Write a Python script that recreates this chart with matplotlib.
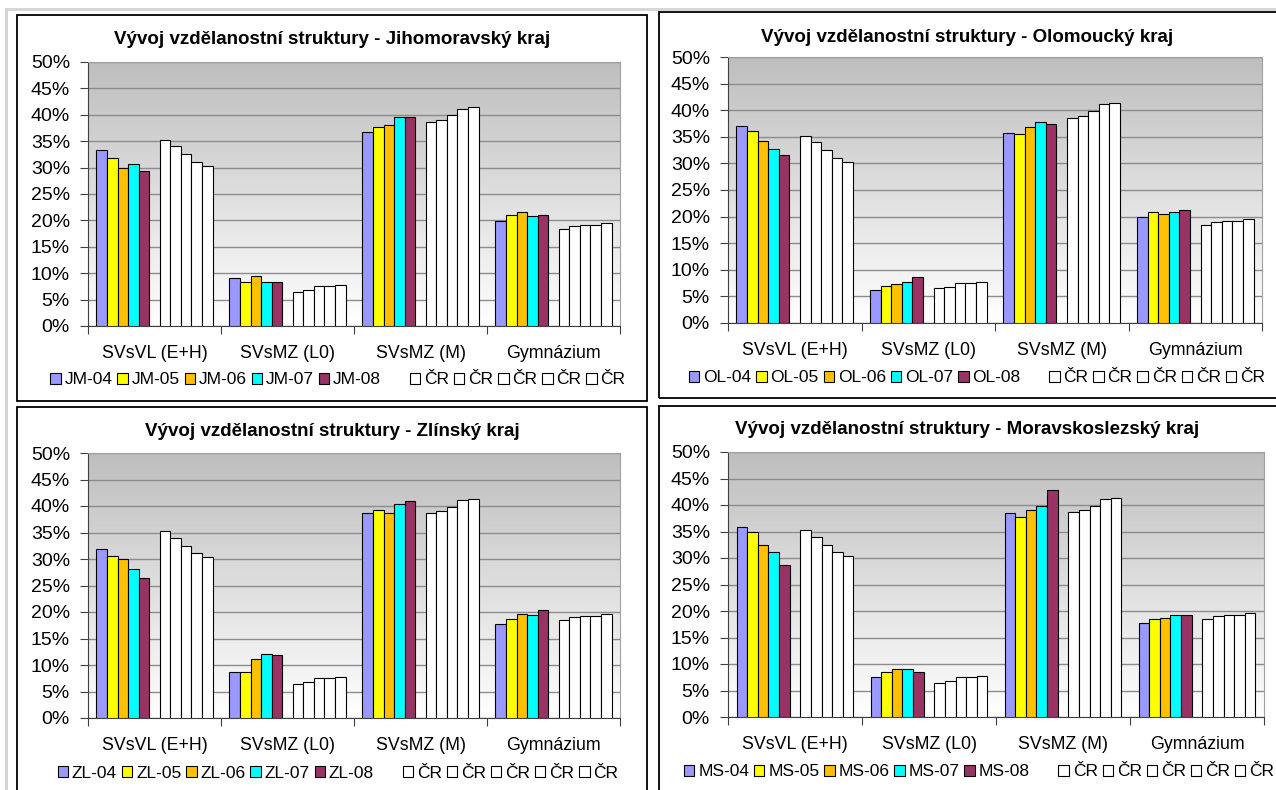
import matplotlib
matplotlib.use("Agg")
import matplotlib.pyplot as plt
from matplotlib.patches import Rectangle, Patch
import numpy as np

plt.rcParams['font.family'] = ['Liberation Sans', 'DejaVu Sans']

categories = ["SVsVL (E+H)", "SVsMZ (L0)", "SVsMZ (M)", "Gymnázium"]
years = ["04", "05", "06", "07", "08"]

# rows = years 04..08, columns = categories (values in %)
jm_values = [[33.3, 9.0, 36.8, 19.9],
             [31.8, 8.4, 37.7, 21.1],
             [29.9, 9.4, 38.1, 21.5],
             [30.6, 8.4, 39.6, 20.9],
             [29.3, 8.4, 39.6, 21.1]]
ol_values = [[37.1, 6.2, 35.8, 19.9],
             [36.1, 6.9, 35.5, 20.9],
             [34.3, 7.4, 36.8, 20.5],
             [32.7, 7.7, 37.7, 20.9],
             [31.5, 8.7, 37.4, 21.2]]
zl_values = [[31.9, 8.7, 38.7, 17.8],
             [30.5, 8.7, 39.3, 18.7],
             [30.0, 11.2, 38.7, 19.7],
             [28.1, 12.1, 40.3, 19.4],
             [26.5, 11.8, 40.9, 20.3]]
ms_values = [[35.9, 7.5, 38.4, 17.8],
             [35.0, 8.4, 37.7, 18.4],
             [32.5, 9.1, 39.0, 18.7],
             [31.2, 9.1, 39.9, 19.3],
             [28.7, 8.4, 42.8, 19.3]]
cr_values = [[35.2, 6.5, 38.6, 18.4],
             [34.0, 6.8, 39.0, 19.0],
             [32.5, 7.5, 39.9, 19.2],
             [31.1, 7.5, 41.1, 19.2],
             [30.3, 7.8, 41.4, 19.6]]

region_colors = ['#9999FF', '#FFFF00', '#FFC000', '#00FFFF', '#993366']

fig = plt.figure(figsize=(12.76, 7.90), dpi=100)
W, H = 1276, 790

# light outer page frame
fig.patches.append(Rectangle((6 / W, -0.1), 1.2, 1 - 9 / H + 0.1, transform=fig.transFigure,
                             fill=False, edgecolor='#D4D4D4', lw=2, zorder=0))

# panel definitions: (prefix, region name, values, box px, axes px, title y, legend x, legend y)
panels = [
    ("JM", "Jihomoravský kraj", jm_values, (17, 15, 647, 401), (88, 62, 620, 326), 40, 338, 380),
    ("OL", "Olomoucký kraj", ol_values, (659, 12, 1282, 398), (728, 57, 1262, 323), 38, 977, 378),
    ("ZL", "Zlínský kraj", zl_values, (17, 407, 647, 795), (88, 453, 620, 718), 432, 338, 773),
    ("MS", "Moravskoslezský kraj", ms_values, (659, 406, 1282, 795), (728, 452, 1264, 717), 430, 979, 772),
]

gradient = np.linspace(1, 0, 256).reshape(-1, 1)
grad_cmap = matplotlib.colors.LinearSegmentedColormap.from_list("g", ["#FFFFFF", "#BEBEBE"])

nslots = 11
w = 1.0 / (nslots + 1.6)

for prefix, region, values, box, axp, title_y, leg_x, leg_y in panels:
    # panel frame
    x0, y0, x1, y1 = box
    fig.patches.append(Rectangle((x0 / W, 1 - y1 / H), (x1 - x0) / W, (y1 - y0) / H,
                                 transform=fig.transFigure, fill=False,
                                 edgecolor='black', lw=1.3, zorder=1))
    fig.text((x0 + min(x1, W)) / 2 / W, 1 - title_y / H,
             "Vývoj vzdělanostní struktury - " + region,
             ha='center', va='center', fontsize=13.5, fontweight='bold')

    ax = fig.add_axes([axp[0] / W, 1 - axp[3] / H, (axp[2] - axp[0]) / W, (axp[3] - axp[1]) / H])
    ax.imshow(gradient, extent=[-0.5, 3.5, 0, 50], aspect='auto', cmap=grad_cmap,
              vmin=0, vmax=1, zorder=0)
    x = np.arange(len(categories))
    handles = []
    for i in range(5):
        b = ax.bar(x + (i - 5) * w, values[i], width=w, color=region_colors[i],
                   edgecolor='black', linewidth=0.8, zorder=3,
                   label=prefix + "-" + years[i])
        handles.append(b)
    handles.append(Patch(facecolor='none', edgecolor='none', label=' '))
    for i in range(5):
        b = ax.bar(x + (i + 1) * w, cr_values[i], width=w, color='white',
                   edgecolor='black', linewidth=0.8, zorder=3, label="ČR")
        handles.append(b)

    ax.set_xlim(-0.5, 3.5)
    ax.set_ylim(0, 50)
    ax.set_yticks(np.arange(0, 51, 5))
    ax.set_yticklabels([f"{v}%" for v in range(0, 51, 5)])
    ax.yaxis.grid(True, color='#8C8C8C', lw=1)
    ax.set_axisbelow(True)
    ax.set_xticks([-0.5, 0.5, 1.5, 2.5, 3.5])
    ax.set_xticklabels([])
    ax.set_xticks(x, minor=True)
    ax.set_xticklabels(categories, minor=True)
    ax.tick_params(axis='x', which='minor', length=0, pad=14, labelsize=12.8)
    ax.tick_params(axis='x', which='major', length=6, direction='out', color='#404040')
    ax.tick_params(axis='y', length=6, direction='out', labelsize=14, pad=7, color='#404040')
    for s in ['left', 'bottom']:
        ax.spines[s].set_color('#404040')
    for s in ['top', 'right']:
        ax.spines[s].set_color('#A0A0A0')

    ax.legend(handles=handles, loc='center', ncol=11,
              bbox_to_anchor=(leg_x / W, 1 - leg_y / H), bbox_transform=fig.transFigure,
              frameon=False, fontsize=12.5, handlelength=0.6, handleheight=0.6,
              handletextpad=0.22, columnspacing=0.28, borderpad=0)

fig.savefig("out.png", dpi=100)
